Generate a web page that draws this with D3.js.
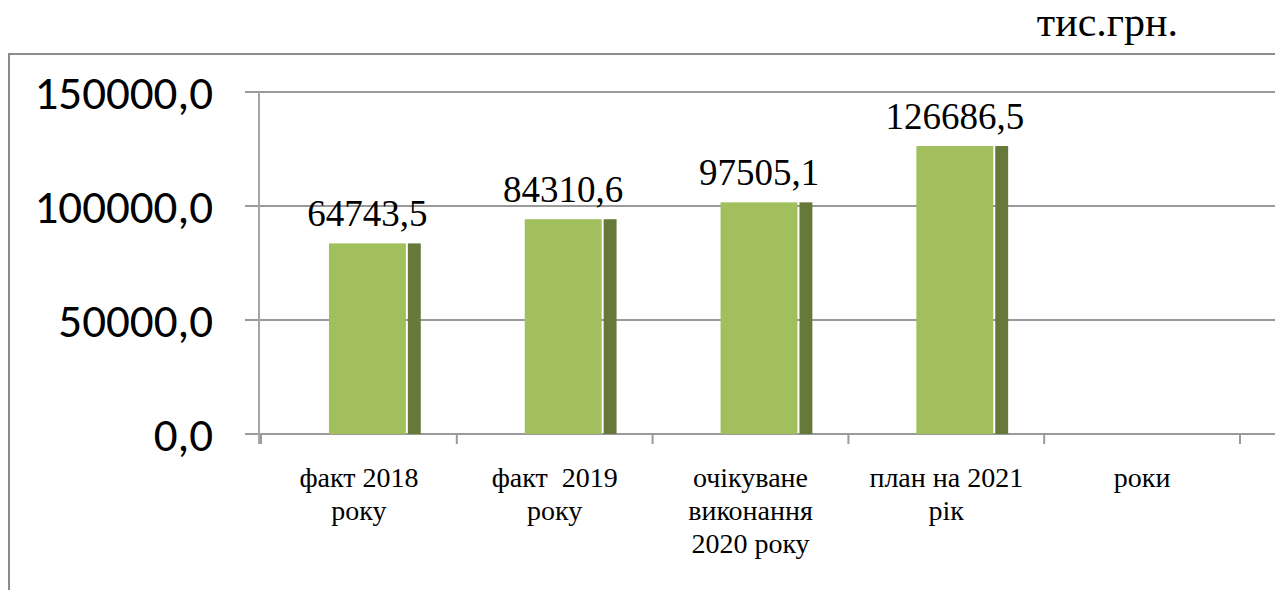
<!DOCTYPE html>
<html>
<head>
<meta charset="utf-8">
<script src="https://cdn.jsdelivr.net/npm/d3@7"></script>
</head>
<body style="margin:0">
<svg id="chart" width="1275" height="590"></svg>
<script>
// categories (line breaks as in the original)
const categories = ["факт 2018\nроку", "факт  2019\nроку", "очікуване\nвиконання\n2020 року", "план на 2021\nрік", "роки"];
// bar heights as drawn in the picture
const barValues = [83600, 94200, 101600, 126300];
// value labels printed over the bars
const valueLabels = ["64743,5", "84310,6", "97505,1", "126686,5"];
const yTicks = [0, 50000, 100000, 150000];
const unitLabel = "тис.грн.";

const SERIF = "Liberation Serif";
const SANS = "Carlito";

const svg = d3.select("#chart");

const x = d3.scaleBand().domain(categories).range([261, 1240]).padding(0);
const y = d3.scaleLinear().domain([0, 150000]).range([434, 92]);
const bw = x.bandwidth();

const fmt = v => d3.format(".1f")(v).replace(".", ",");

// outer frame (top and left edge)
svg.append("path")
    .attr("d", "M9,590 V54 H1275")
    .attr("fill", "none")
    .attr("stroke", "#8c8c8c")
    .attr("stroke-width", 2);

svg.append("text")
    .attr("x", 1178)
    .attr("y", 36)
    .attr("text-anchor", "end")
    .attr("font-family", SERIF)
    .style("font-family", () => `"${SERIF}"`)
    .attr("font-size", 42)
    .text(unitLabel);

// grid lines
svg.append("g")
    .selectAll("line")
    .data(yTicks)
    .join("line")
    .attr("x1", 245)
    .attr("x2", 1275)
    .attr("y1", d => y(d))
    .attr("y2", d => y(d))
    .attr("stroke", "#9a9a9a")
    .attr("stroke-width", 2);

// y axis line
svg.append("line")
    .attr("x1", 259).attr("x2", 259)
    .attr("y1", y(150000)).attr("y2", 444)
    .attr("stroke", "#a6a6a6")
    .attr("stroke-width", 2);

// y tick labels
svg.append("g")
    .selectAll("text")
    .data(yTicks)
    .join("text")
    .attr("x", 213)
    .attr("y", d => y(d) + 17)
    .attr("text-anchor", "end")
    .attr("font-family", SANS)
    .style("font-family", () => `"${SANS}"`)
    .attr("font-size", 47)
    .text(d => fmt(d));

// x ticks
const xTickPos = categories.map(c => x(c)).concat([x(categories[categories.length - 1]) + bw]);
svg.append("g")
    .selectAll("line")
    .data(xTickPos)
    .join("line")
    .attr("x1", d => d).attr("x2", d => d)
    .attr("y1", 434).attr("y2", 444)
    .attr("stroke", "#9a9a9a")
    .attr("stroke-width", 2);

// bars: light front and dark side
const barData = barValues.map((v, i) => ({ cat: categories[i], value: v, label: valueLabels[i] }));
const frontW = bw * 0.393, gap = bw * 0.01, sideW = bw * 0.066;
const bars = svg.append("g").selectAll("g").data(barData).join("g");

bars.append("rect")
    .attr("x", d => x(d.cat) + bw * 0.347)
    .attr("y", d => y(d.value))
    .attr("width", frontW)
    .attr("height", d => y(0) - y(d.value))
    .attr("fill", "#a1c05d");

bars.append("rect")
    .attr("x", d => x(d.cat) + bw * 0.347 + frontW + gap)
    .attr("y", d => y(d.value))
    .attr("width", sideW)
    .attr("height", d => y(0) - y(d.value))
    .attr("fill", "#66793a");

bars.append("text")
    .attr("x", d => x(d.cat) + bw * 0.347 + frontW / 2)
    .attr("y", d => y(d.value) - 17)
    .attr("text-anchor", "middle")
    .attr("font-family", SERIF)
    .style("font-family", () => `"${SERIF}"`)
    .attr("font-size", 37)
    .text(d => d.label);

// category labels
const catText = svg.append("g")
    .selectAll("text")
    .data(categories)
    .join("text")
    .attr("x", d => x(d) + bw / 2)
    .attr("y", 487)
    .attr("text-anchor", "middle")
    .attr("font-family", SERIF)
    .style("font-family", () => `"${SERIF}"`)
    .attr("font-size", 28);

catText.selectAll("tspan")
    .data(d => d.split("\n"))
    .join("tspan")
    .attr("x", function () { return d3.select(this.parentNode).attr("x"); })
    .attr("dy", (d, i) => i === 0 ? 0 : 33)
    .style("white-space", "pre")
    .text(d => d);
</script>
</body>
</html>
